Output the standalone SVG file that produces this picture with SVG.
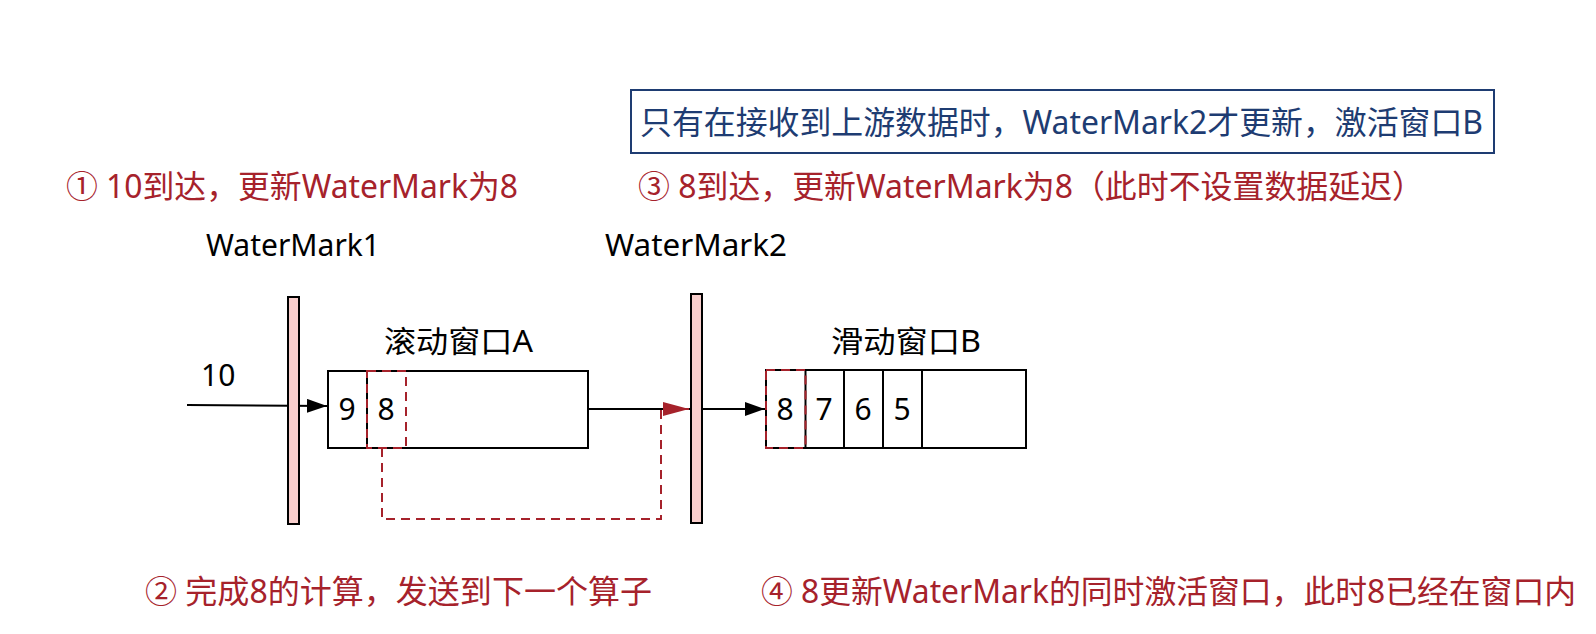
<svg xmlns="http://www.w3.org/2000/svg" width="1596" height="634" viewBox="0 0 1596 634">
<style>
text{font-family:"Noto Sans","Noto Sans CJK SC",sans-serif;font-size:30px;fill:#000}
.lbl{font-size:32px}
.red{fill:#A6222B}
.blue{fill:#1E3C72}
.bar{fill:#F8CECC;stroke:#000;stroke-width:2}
.box{fill:#fff;stroke:#000;stroke-width:2}
.div{stroke:#000;stroke-width:2}
.dash{fill:none;stroke:#A6222B;stroke-width:2;stroke-dasharray:9 6}
.conn{fill:none;stroke:#000;stroke-width:2}
</style>
<defs>
<marker id="ab" markerUnits="userSpaceOnUse" markerWidth="22" markerHeight="16" refX="20" refY="7" orient="auto">
<path d="M0,0 L20,7 L0,14 Z" fill="#000"/>
</marker>
<marker id="ar" markerUnits="userSpaceOnUse" markerWidth="28" markerHeight="16" refX="26" refY="7" orient="auto">
<path d="M0,0 L26,7 L0,14 Z" fill="#A6222B"/>
</marker>
</defs>
<rect width="1596" height="634" fill="#fff"/>
<g id="connectors">
<path class="conn" d="M187,405 L327,406" marker-end="url(#ab)"/>
<path class="conn" d="M588,409 L691,409"/>
<path class="dash" d="M382,448 L382,519 L661,519 L661,409 L689,409" marker-end="url(#ar)"/>
<path class="conn" d="M702,409 L765,409" marker-end="url(#ab)"/>
</g>
<g id="note">
<rect x="631" y="90" width="863" height="63" fill="#fff" stroke="#1E3C72" stroke-width="2"/>
<text class="blue lbl" x="640" y="134" textLength="843" lengthAdjust="spacingAndGlyphs">只有在接收到上游数据时，WaterMark2才更新，激活窗口B</text>
</g>
<g id="label1"><text class="red lbl" x="66" y="198" textLength="452" lengthAdjust="spacingAndGlyphs">① 10到达，更新WaterMark为8</text></g>
<g id="label3"><text class="red lbl" x="638" y="198" textLength="786" lengthAdjust="spacingAndGlyphs">③ 8到达，更新WaterMark为8（此时不设置数据延迟）</text></g>
<g id="label2"><text class="red lbl" x="145" y="603" textLength="507" lengthAdjust="spacingAndGlyphs">② 完成8的计算，发送到下一个算子</text></g>
<g id="label4"><text class="red lbl" x="761" y="603" textLength="815" lengthAdjust="spacingAndGlyphs">④ 8更新WaterMark的同时激活窗口，此时8已经在窗口内</text></g>
<g id="wm1">
<text x="206" y="256" textLength="174" lengthAdjust="spacingAndGlyphs">WaterMark1</text>
<rect class="bar" x="288" y="297" width="11" height="227"/>
</g>
<g id="wm2">
<text x="605" y="256" textLength="182" lengthAdjust="spacingAndGlyphs">WaterMark2</text>
<rect class="bar" x="691" y="294" width="11" height="229"/>
</g>
<g id="input"><text x="201" y="386">10</text></g>
<g id="windowA">
<text x="384" y="352" font-size="31" textLength="149" lengthAdjust="spacingAndGlyphs">滚动窗口A</text>
<rect class="box" x="328" y="371" width="260" height="77"/>
<line class="div" x1="367" y1="371" x2="367" y2="448"/>
<text x="347" y="420" text-anchor="middle">9</text>
<text x="386" y="420" text-anchor="middle">8</text>
<rect class="dash" x="367" y="371" width="39" height="77"/>
</g>
<g id="windowB">
<text x="831" y="352" font-size="31" textLength="150" lengthAdjust="spacingAndGlyphs">滑动窗口B</text>
<rect class="box" x="766" y="370" width="260" height="78"/>
<line class="div" x1="805.5" y1="370" x2="805.5" y2="448"/>
<line class="div" x1="844" y1="370" x2="844" y2="448"/>
<line class="div" x1="883" y1="370" x2="883" y2="448"/>
<line class="div" x1="922" y1="370" x2="922" y2="448"/>
<text x="785" y="420" text-anchor="middle">8</text>
<text x="824" y="420" text-anchor="middle">7</text>
<text x="863" y="420" text-anchor="middle">6</text>
<text x="902" y="420" text-anchor="middle">5</text>
<rect class="dash" x="766" y="370" width="39.5" height="78"/>
</g>
</svg>
